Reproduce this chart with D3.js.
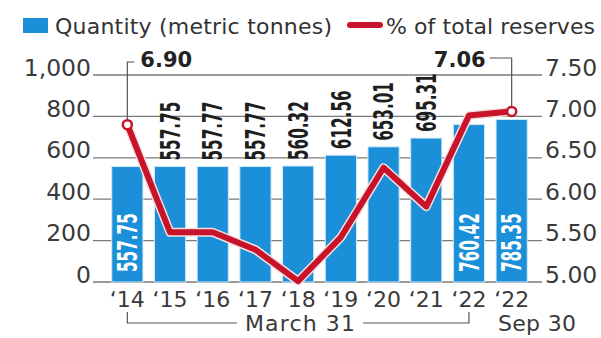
<!DOCTYPE html>
<html>
<head>
<meta charset="utf-8">
<script src="https://cdn.jsdelivr.net/npm/d3@7"></script>
<style>
  body { margin: 0; background: #fff; }
  svg text { font-family: "DejaVu Sans", sans-serif; fill: #2b2b2b; }
</style>
</head>
<body>
<div id="chart"></div>
<script>
// data
var periods = ["2014-03", "2015-03", "2016-03", "2017-03", "2018-03", "2019-03", "2020-03", "2021-03", "2022-03", "2022-09"];
var tickLabels = ["\u201814", "\u201815", "\u201816", "\u201817", "\u201818", "\u201819", "\u201820", "\u201821", "\u201822", "\u201822"];
var quantity = [557.75, 557.75, 557.77, 557.77, 560.32, 612.56, 653.01, 695.31, 760.42, 785.35];
var sharePct = [6.90, 5.60, 5.60, 5.39, 5.01, 5.54, 6.38, 5.91, 7.01, 7.06];
var leftTicks = [0, 200, 400, 600, 800, 1000];
var rightTicks = [5.00, 5.50, 6.00, 6.50, 7.00, 7.50];
var insideLabel = [true, false, false, false, false, false, false, false, true, true];

var width = 601,
    height = 338,
    blue = "#1b8fd8",
    red = "#c8142b";

var svg = d3.select("#chart")
            .append("svg")
            .attr("width", width)
            .attr("height", height);

var x = d3.scaleBand()
          .domain(periods)
          .range([106, 533])
          .paddingInner(0.27)
          .paddingOuter(0.135);

var yLeft = d3.scaleLinear().domain([0, 1000]).range([282, 75]);
var yRight = d3.scaleLinear().domain([5, 7.5]).range([282, 75]);

var cx = (d) => x(d) + x.bandwidth() / 2;

// gridlines
svg.append("g")
   .selectAll("line")
   .data(leftTicks)
   .enter()
   .append("line")
   .attr("x1", 93)
   .attr("x2", 542)
   .attr("y1", (d) => yLeft(d))
   .attr("y2", (d) => yLeft(d))
   .style("stroke", "#7a7a7a")
   .style("stroke-width", 1.3);

// axes
var leftAxis = svg.append("g")
   .attr("transform", "translate(92,0)")
   .call(d3.axisLeft(yLeft).tickValues(leftTicks).tickFormat(d3.format(",")).tickSize(0).tickPadding(1));
leftAxis.select(".domain").remove();
leftAxis.selectAll("text")
   .attr("dy", "0")
   .style("font-size", "23.5px")
   .style("fill", "#3a3a3a");

var rightAxis = svg.append("g")
   .attr("transform", "translate(544,0)")
   .call(d3.axisRight(yRight).tickValues(rightTicks).tickFormat(d3.format(".2f")).tickSize(0).tickPadding(1));
rightAxis.select(".domain").remove();
rightAxis.selectAll("text")
   .attr("dy", "0")
   .style("font-size", "23.5px")
   .style("fill", "#3a3a3a");

var bottomAxis = svg.append("g")
   .attr("transform", "translate(0,282)")
   .call(d3.axisBottom(x).tickFormat((d, i) => tickLabels[i]).tickSize(0).tickPadding(9));
bottomAxis.select(".domain").remove();
bottomAxis.selectAll("text")
   .style("font-size", "22px")
   .style("fill", "#3a3a3a");

// bars
svg.append("g")
   .selectAll("rect")
   .data(periods)
   .enter()
   .append("rect")
   .attr("x", (d) => x(d))
   .attr("width", x.bandwidth())
   .attr("y", (d, i) => yLeft(quantity[i]))
   .attr("height", (d, i) => yLeft(0) - yLeft(quantity[i]))
   .style("fill", blue)
   .style("stroke", "#cfe9f8")
   .style("stroke-width", 1);

// bar value labels (rotated)
svg.append("g")
   .selectAll("text")
   .data(periods)
   .enter()
   .append("text")
   .attr("transform", (d, i) => {
     var ty = insideLabel[i] ? yLeft(0) - 10 : yLeft(quantity[i]) - 6;
     return `translate(${cx(d)},${ty}) rotate(-90)`;
   })
   .attr("dy", "0.36em")
   .attr("textLength", (d, i) => quantity[i].toFixed(2).length * 9.8)
   .attr("lengthAdjust", "spacingAndGlyphs")
   .style("font-size", "27px")
   .style("font-weight", "bold")
   .style("fill", (d, i) => insideLabel[i] ? "#ffffff" : "#1e1e1e")
   .text((d, i) => quantity[i].toFixed(2));

// line with halo
var line = d3.line()
             .x((d) => cx(d))
             .y((d, i) => yRight(sharePct[i]));

svg.append("path")
   .datum(periods)
   .attr("d", line)
   .style("fill", "none")
   .style("stroke", "#f7dfe1")
   .style("stroke-width", 9)
   .style("stroke-linejoin", "round");

svg.append("path")
   .datum(periods)
   .attr("d", line)
   .style("fill", "none")
   .style("stroke", red)
   .style("stroke-width", 6)
   .style("stroke-linejoin", "round");

// annotation brackets for first and last points
var first = 0, last = periods.length - 1;
var fx = cx(periods[first]), fy = yRight(sharePct[first]);
var lx = cx(periods[last]), ly = yRight(sharePct[last]);

svg.append("path")
   .attr("d", `M${fx + 7},62 H${fx} V${fy}`)
   .style("fill", "none")
   .style("stroke", "#555")
   .style("stroke-width", 1.2);

svg.append("path")
   .attr("d", `M${lx - 22},58 H${lx} V${ly}`)
   .style("fill", "none")
   .style("stroke", "#555")
   .style("stroke-width", 1.2);

svg.append("text")
   .attr("x", fx + 13)
   .attr("y", 67)
   .style("font-size", "21px")
   .style("font-weight", "bold")
   .style("fill", "#222")
   .text(sharePct[first].toFixed(2));

svg.append("text")
   .attr("x", lx - 26)
   .attr("y", 67)
   .attr("text-anchor", "end")
   .style("font-size", "21px")
   .style("font-weight", "bold")
   .style("fill", "#222")
   .text(sharePct[last].toFixed(2));

// end markers
svg.selectAll(".marker")
   .data([first, last])
   .enter()
   .append("circle")
   .attr("class", "marker")
   .attr("cx", (i) => cx(periods[i]))
   .attr("cy", (i) => yRight(sharePct[i]))
   .attr("r", 4.5)
   .style("fill", "#fff")
   .style("stroke", red)
   .style("stroke-width", 2.5);

// period bracket under x axis
var bx1 = cx(periods[0]), bx2 = cx(periods[8]);
svg.append("path")
   .attr("d", `M${bx1},312 V323 H237 M363,323 H${bx2} V312`)
   .style("fill", "none")
   .style("stroke", "#555")
   .style("stroke-width", 1.2);

svg.append("text")
   .attr("x", 300)
   .attr("y", 331)
   .attr("text-anchor", "middle")
   .attr("textLength", 110)
   .style("font-size", "22px")
   .style("fill", "#3a3a3a")
   .text("March 31");

svg.append("text")
   .attr("x", 498)
   .attr("y", 331)
   .attr("textLength", 78)
   .style("font-size", "22px")
   .style("fill", "#3a3a3a")
   .text("Sep 30");

// legend
svg.append("rect")
   .attr("x", 23).attr("y", 18)
   .attr("width", 25).attr("height", 15)
   .style("fill", blue);

svg.append("text")
   .attr("x", 55)
   .attr("y", 34)
   .attr("textLength", 277)
   .style("font-size", "22px")
   .style("fill", "#333")
   .text("Quantity (metric tonnes)");

svg.append("line")
   .attr("x1", 350).attr("x2", 380)
   .attr("y1", 25).attr("y2", 25)
   .style("stroke", red)
   .style("stroke-width", 6)
   .style("stroke-linecap", "round");

svg.append("text")
   .attr("x", 386)
   .attr("y", 34)
   .attr("textLength", 209)
   .style("font-size", "22px")
   .style("fill", "#333")
   .text("% of total reserves");
</script>
</body>
</html>
